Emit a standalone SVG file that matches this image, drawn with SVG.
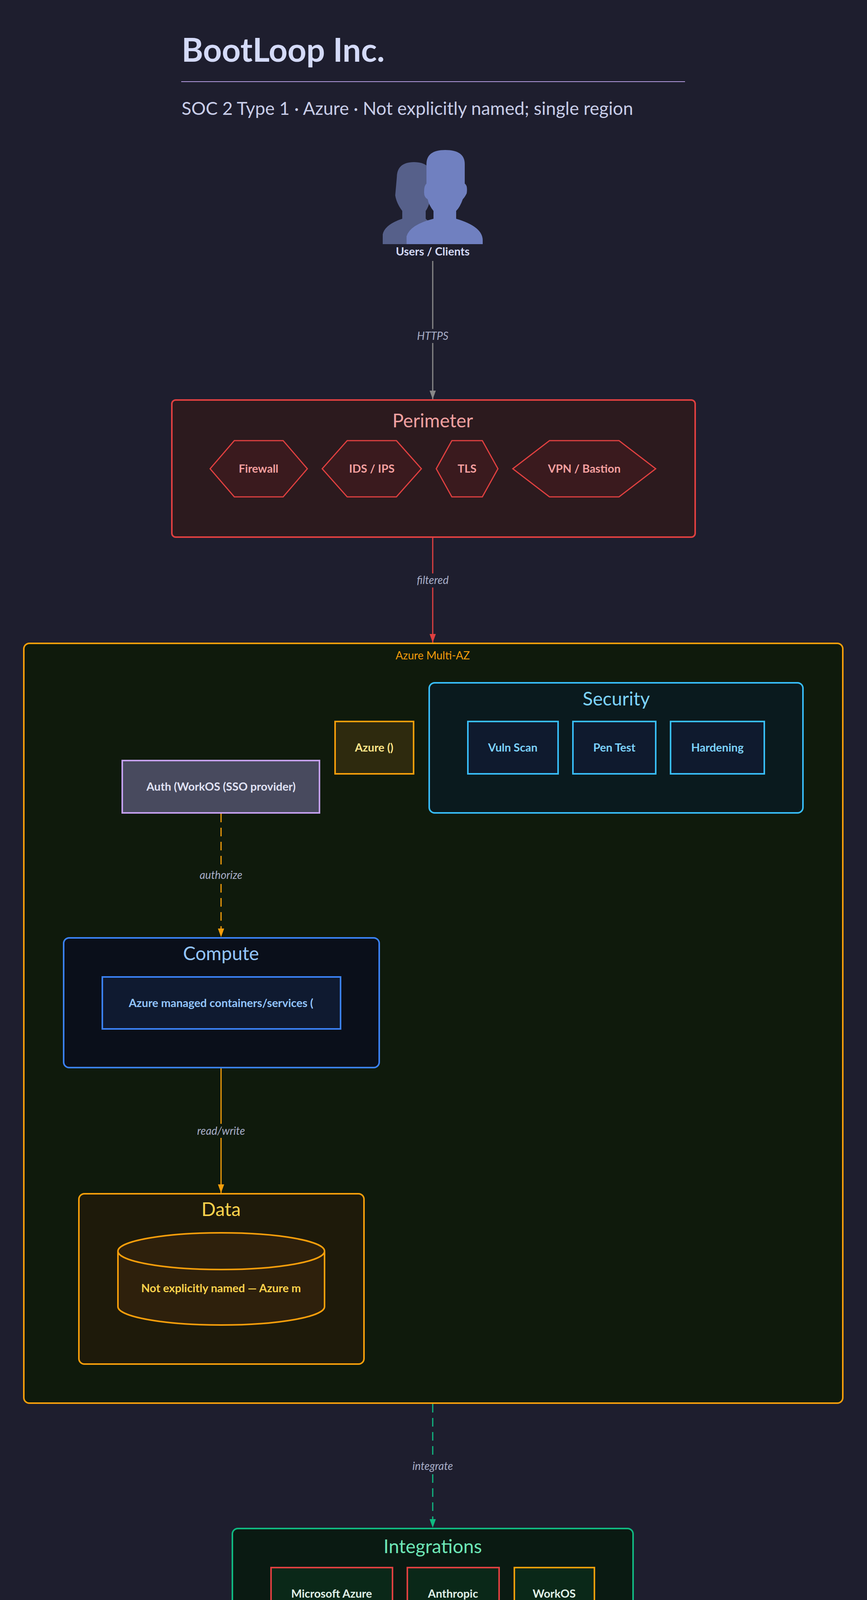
<svg xmlns="http://www.w3.org/2000/svg" width="2220" height="4308" viewBox="0 0 2220 4308">
<style>
text{font-family:Lato,"Noto Sans",sans-serif}
.lbl{font-size:29px;font-weight:700;text-anchor:middle}
.ttl{font-size:48px;text-anchor:middle}
.el{font-size:28px;font-style:italic;fill:#a8aec8;text-anchor:middle}
.bg{fill:#1e1e2e}
</style>
<defs>
<marker id="ar" markerWidth="24" markerHeight="24" refX="22" refY="12" orient="auto" markerUnits="userSpaceOnUse"><path d="M0,4L22,12L0,20z" fill="#e04040"/></marker>
<marker id="ao" markerWidth="24" markerHeight="24" refX="22" refY="12" orient="auto" markerUnits="userSpaceOnUse"><path d="M0,4L22,12L0,20z" fill="#f59e0b"/></marker>
<marker id="agr" markerWidth="24" markerHeight="24" refX="22" refY="12" orient="auto" markerUnits="userSpaceOnUse"><path d="M0,4L22,12L0,20z" fill="#10b981"/></marker>
<marker id="agy" markerWidth="24" markerHeight="24" refX="22" refY="12" orient="auto" markerUnits="userSpaceOnUse"><path d="M0,4L22,12L0,20z" fill="#888"/></marker>
</defs>
<rect width="2220" height="4308" fill="#1e1e2e"/>
<g id="header">
<text x="465" y="158" font-size="84" font-weight="700" fill="#d4daf8">BootLoop Inc.</text>
<line x1="464" y1="209" x2="1754" y2="209" stroke="#b49ae0" stroke-width="2"/>
<text x="465" y="294" font-size="46" fill="#c8cde8">SOC 2 Type 1 · Azure · Not explicitly named; single region</text>
</g>
<g id="users">
<path d="M1016,455 Q1016,415 1060,415 Q1105,415 1105,455 L1105,500 Q1098,530 1090,540 L1090,560 L1114,580 L1114,625 L980,625 L980,600 Q985,575 1030,560 L1030,540 Q1015,520 1012,500 Z" fill="#56608a"/>
<path d="M1092,420 Q1092,384 1140,384 Q1190,384 1190,420 L1190,470 Q1198,475 1195,495 Q1190,505 1185,510 Q1178,530 1168,540 L1168,560 Q1236,580 1236,615 L1236,625 L1041,625 L1041,605 Q1050,575 1110,560 L1110,540 Q1098,525 1095,510 Q1085,505 1086,490 Q1086,475 1092,470 Z" fill="#7080c0"/>
<text x="1108" y="654" class="lbl" fill="#d4daf8" font-size="28">Users / Clients</text>
</g>
<g id="perimeter">
<rect x="440" y="1024" width="1340" height="351" rx="10" fill="#2c1a1e" stroke="#e04040" stroke-width="4"/>
<text x="1108" y="1094" class="ttl" fill="#f0a0a0">Perimeter</text>
<g fill="#3a1a1e" stroke="#e04040" stroke-width="3">
<polygon points="538,1200 600,1128 725,1128 787,1200 725,1272 600,1272"/>
<polygon points="825,1200 889,1128 1015,1128 1079,1200 1015,1272 889,1272"/>
<polygon points="1117,1200 1157,1128 1235,1128 1275,1200 1235,1272 1157,1272"/>
<polygon points="1313,1200 1407,1128 1585,1128 1679,1200 1585,1272 1407,1272"/>
</g>
<text x="662" y="1210" class="lbl" fill="#f5a0a0">Firewall</text>
<text x="952" y="1210" class="lbl" fill="#f5a0a0">IDS / IPS</text>
<text x="1196" y="1210" class="lbl" fill="#f5a0a0">TLS</text>
<text x="1496" y="1210" class="lbl" fill="#f5a0a0">VPN / Bastion</text>
</g>
<g id="azure-multi-az">
<rect x="61" y="1647" width="2097" height="1945" rx="14" fill="#0f1a0c" stroke="#f59e0b" stroke-width="4"/>
<text x="1108" y="1688" font-size="28" fill="#f59e0b" text-anchor="middle">Azure Multi-AZ</text>
</g>
<g id="security">
<rect x="1099" y="1748" width="957" height="333" rx="14" fill="#0a1a1e" stroke="#38bdf8" stroke-width="4"/>
<text x="1578" y="1806" class="ttl" fill="#7dd3fc" font-size="46">Security</text>
<g fill="#0f1a2e" stroke="#38bdf8" stroke-width="4">
<rect x="1198" y="1847" width="231" height="134"/>
<rect x="1467" y="1847" width="212" height="134"/>
<rect x="1717" y="1847" width="240" height="134"/>
</g>
<text x="1313" y="1924" class="lbl" fill="#7dd3fc">Vuln Scan</text>
<text x="1573" y="1924" class="lbl" fill="#7dd3fc">Pen Test</text>
<text x="1837" y="1924" class="lbl" fill="#7dd3fc">Hardening</text>
</g>
<g id="azure">
<rect x="858" y="1847" width="201" height="134" fill="#2e2a0e" stroke="#f59e0b" stroke-width="4"/>
<text x="958" y="1924" class="lbl" fill="#fde68a">Azure ()</text>
</g>
<g id="auth">
<rect x="313" y="1947" width="505" height="134" fill="#484a5e" stroke="#c4a0f0" stroke-width="4"/>
<text x="566" y="2024" class="lbl" fill="#e0e2f4">Auth (WorkOS (SSO provider)</text>
</g>
<g id="compute">
<rect x="163" y="2401" width="808" height="332" rx="14" fill="#0a0f1a" stroke="#3b82f6" stroke-width="4"/>
<text x="566" y="2458" class="ttl" fill="#93c5fd" font-size="46">Compute</text>
<rect x="262" y="2501" width="610" height="133" fill="#0f1a30" stroke="#3b82f6" stroke-width="4"/>
<text x="566" y="2578" class="lbl" fill="#93c5fd">Azure managed containers/services (</text>
</g>
<g id="data">
<rect x="202" y="3056" width="730" height="436" rx="14" fill="#1e1a0a" stroke="#f59e0b" stroke-width="4"/>
<text x="566" y="3113" class="ttl" fill="#fcd34d" font-size="46">Data</text>
<path d="M302,3203 L302,3345 A264.5,47 0 0 0 831,3345 L831,3203" fill="#2e200c" stroke="#f59e0b" stroke-width="4"/>
<ellipse cx="566.5" cy="3203" rx="264.5" ry="47" fill="#2e200c" stroke="#f59e0b" stroke-width="4"/>
<text x="566" y="3308" class="lbl" fill="#fcd34d">Not explicitly named — Azure m</text>
</g>
<g id="integrations">
<rect x="595" y="3913" width="1026" height="332" rx="14" fill="#0a1a12" stroke="#10b981" stroke-width="4"/>
<text x="1108" y="3976" class="ttl" fill="#6ee7b7">Integrations</text>
<rect x="694" y="4013" width="311" height="133" fill="#0a2818" stroke="#e04040" stroke-width="4"/>
<rect x="1043" y="4013" width="235" height="133" fill="#0a2818" stroke="#e04040" stroke-width="4"/>
<rect x="1317" y="4013" width="205" height="133" fill="#0a2818" stroke="#f59e0b" stroke-width="4"/>
<text x="849" y="4090" class="lbl" fill="#e0f0e8">Microsoft Azure</text>
<text x="1160" y="4090" class="lbl" fill="#e0f0e8">Anthropic</text>
<text x="1419" y="4090" class="lbl" fill="#e0f0e8">WorkOS</text>
</g>
<g id="connectors" fill="none" stroke-width="3">
<line x1="1108" y1="668" x2="1108" y2="1022" stroke="#888" marker-end="url(#agy)"/>
<rect x="1060" y="842" width="96" height="36" class="bg" stroke="none"/>
<line x1="1108" y1="1377" x2="1108" y2="1645" stroke="#e04040" marker-end="url(#ar)"/>
<rect x="1050" y="1468" width="116" height="36" class="bg" stroke="none"/>
<line x1="566" y1="2083" x2="566" y2="2399" stroke="#f59e0b" stroke-dasharray="22,14" marker-end="url(#ao)"/>
<rect x="500" y="2222" width="132" height="36" fill="#0f1a0c" stroke="none"/>
<line x1="566" y1="2735" x2="566" y2="3054" stroke="#f59e0b" marker-end="url(#ao)"/>
<rect x="495" y="2877" width="142" height="36" fill="#0f1a0c" stroke="none"/>
<line x1="1108" y1="3594" x2="1108" y2="3911" stroke="#10b981" stroke-dasharray="22,14" marker-end="url(#agr)"/>
<rect x="1045" y="3735" width="126" height="36" class="bg" stroke="none"/>
<text x="1108" y="870" class="el" stroke="none">HTTPS</text>
<text x="1108" y="1495" class="el" stroke="none">filtered</text>
<text x="566" y="2250" class="el" stroke="none">authorize</text>
<text x="566" y="2905" class="el" stroke="none">read/write</text>
<text x="1108" y="3763" class="el" stroke="none">integrate</text>
</g>
</svg>
